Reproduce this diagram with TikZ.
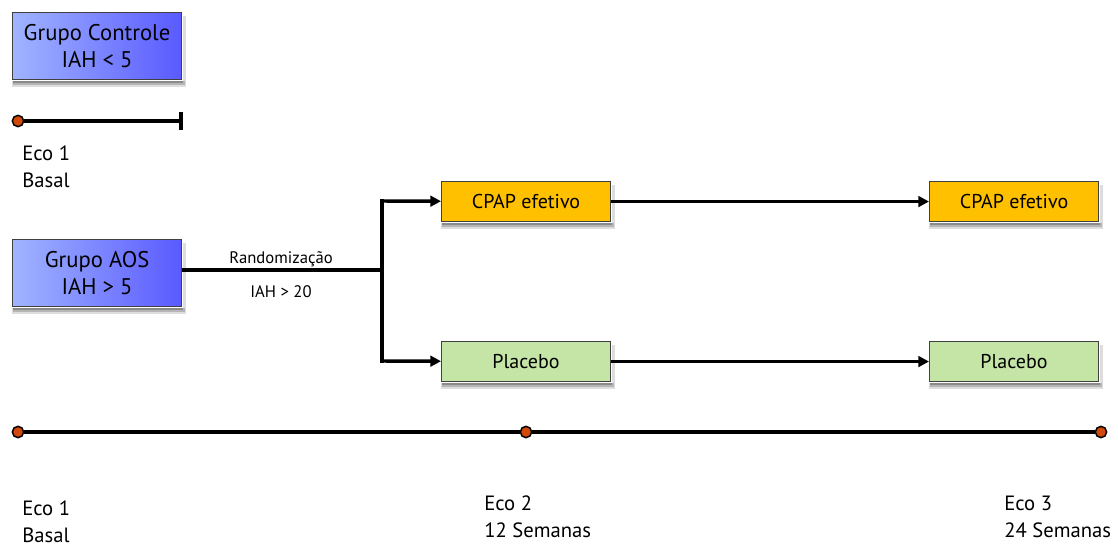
\documentclass[tikz,border=0pt]{standalone}
\usepackage{fontspec}
\setmainfont{PT Sans}
\usetikzlibrary{arrows.meta}
\definecolor{blueL}{HTML}{A0B4FF}
\definecolor{blueR}{HTML}{5A5AFF}
\definecolor{cpap}{HTML}{FFC000}
\definecolor{plac}{HTML}{C4E5A6}
\definecolor{dotc}{HTML}{D24A0A}
\definecolor{sh1}{HTML}{8A8A8A}
\definecolor{sh2}{HTML}{B5B5B5}
\definecolor{sh3}{HTML}{DDDDDD}
\tikzset{
  box/.style={draw=black!75, line width=0.8pt, inner sep=0pt, anchor=north west},
  bluebox/.style={box, left color=blueL, right color=blueR, minimum width=126.75pt, minimum height=50.25pt, align=center, font=\fontsize{17}{20}\selectfont},
  smallbox/.style={box, minimum width=126.75pt, minimum height=30pt, font=\fontsize{15}{17}\selectfont},
  conn/.style={line width=2.6pt, draw=black},
  arr/.style={conn, -{Triangle[length=8pt,width=8pt]}},
  dot/.style={circle, draw=black, line width=1.1pt, fill=dotc, inner sep=0pt, minimum size=8.5pt},
  lbl/.style={anchor=north west, align=left, inner sep=0pt, font=\fontsize{15.5}{20}\selectfont},
  slbl/.style={inner sep=0pt, font=\fontsize{12.5}{14}\selectfont}
}
\newcommand\boxshadow[1]{%
  \fill[sh3] ([xshift=0pt,yshift=-0.4pt]#1.south west) rectangle ([xshift=3pt,yshift=-5pt]#1.south east);
  \fill[sh3] ([xshift=0.4pt,yshift=-3pt]#1.north east) rectangle ([xshift=3pt,yshift=-0.4pt]#1.south east);
  \fill[sh2] ([xshift=1pt,yshift=-0.4pt]#1.south west) rectangle ([xshift=2pt,yshift=-3.5pt]#1.south east);
  \fill[sh1] ([xshift=1pt,yshift=-0.4pt]#1.south west) rectangle ([xshift=1pt,yshift=-2pt]#1.south east);
}
\begin{document}
\begin{tikzpicture}[x=0.75pt,y=-0.75pt]
\useasboundingbox (0,0) rectangle (1118,549);
% top group
\node[bluebox] (gc) at (12,12) {Grupo Controle\\IAH < 5};
\node[dot] (d0) at (18,121) {};
\coordinate (t0) at (181,121);
\coordinate (t0a) at (181,112);
\coordinate (t0b) at (181,130);
\draw[conn] (d0) -- (t0);
\draw[conn] (t0a) -- (t0b);
\node[lbl] (e0) at (22,146) {Eco 1\\Basal};
% AOS
\node[bluebox] (aos) at (12,239) {Grupo AOS\\IAH > 5};
\coordinate (br) at (382,270);
\coordinate (bt) at (382,201);
\coordinate (bb) at (382,361);
\node[smallbox, fill=cpap] (c1) at (441,181) {CPAP efetivo};
\node[smallbox, fill=cpap] (c2) at (929,181) {CPAP efetivo};
\node[smallbox, fill=plac] (p1) at (441,341) {Placebo};
\node[smallbox, fill=plac] (p2) at (929,341) {Placebo};
\boxshadow{gc}\boxshadow{aos}\boxshadow{c1}\boxshadow{c2}\boxshadow{p1}\boxshadow{p2}
\draw[conn] (aos.east |- br) -- (br);
\draw[conn, line cap=rect] (bt) -- (bb);
\draw[arr] (bt) -- (c1);
\draw[arr] (bb) -- (p1);
\draw[arr] (c1) -- (c2);
\draw[arr] (p1) -- (p2);
\node[slbl] (rand) at (281,259) {Randomização};
\node[slbl] (iah) at (281,292) {IAH > 20};
% bottom timeline
\node[dot] (b1) at (18,432) {};
\node[dot] (b2) at (526,432) {};
\node[dot] (b3) at (1101,432) {};
\draw[conn] (b1) -- (b2);
\draw[conn] (b2) -- (b3);
\node[lbl] (e1) at (22,501) {Eco 1\\Basal};
\node[lbl] (e2) at (484,496) {Eco 2\\12 Semanas};
\node[lbl] (e3) at (1004,496) {Eco 3\\24 Semanas};
\end{tikzpicture}
\end{document}
